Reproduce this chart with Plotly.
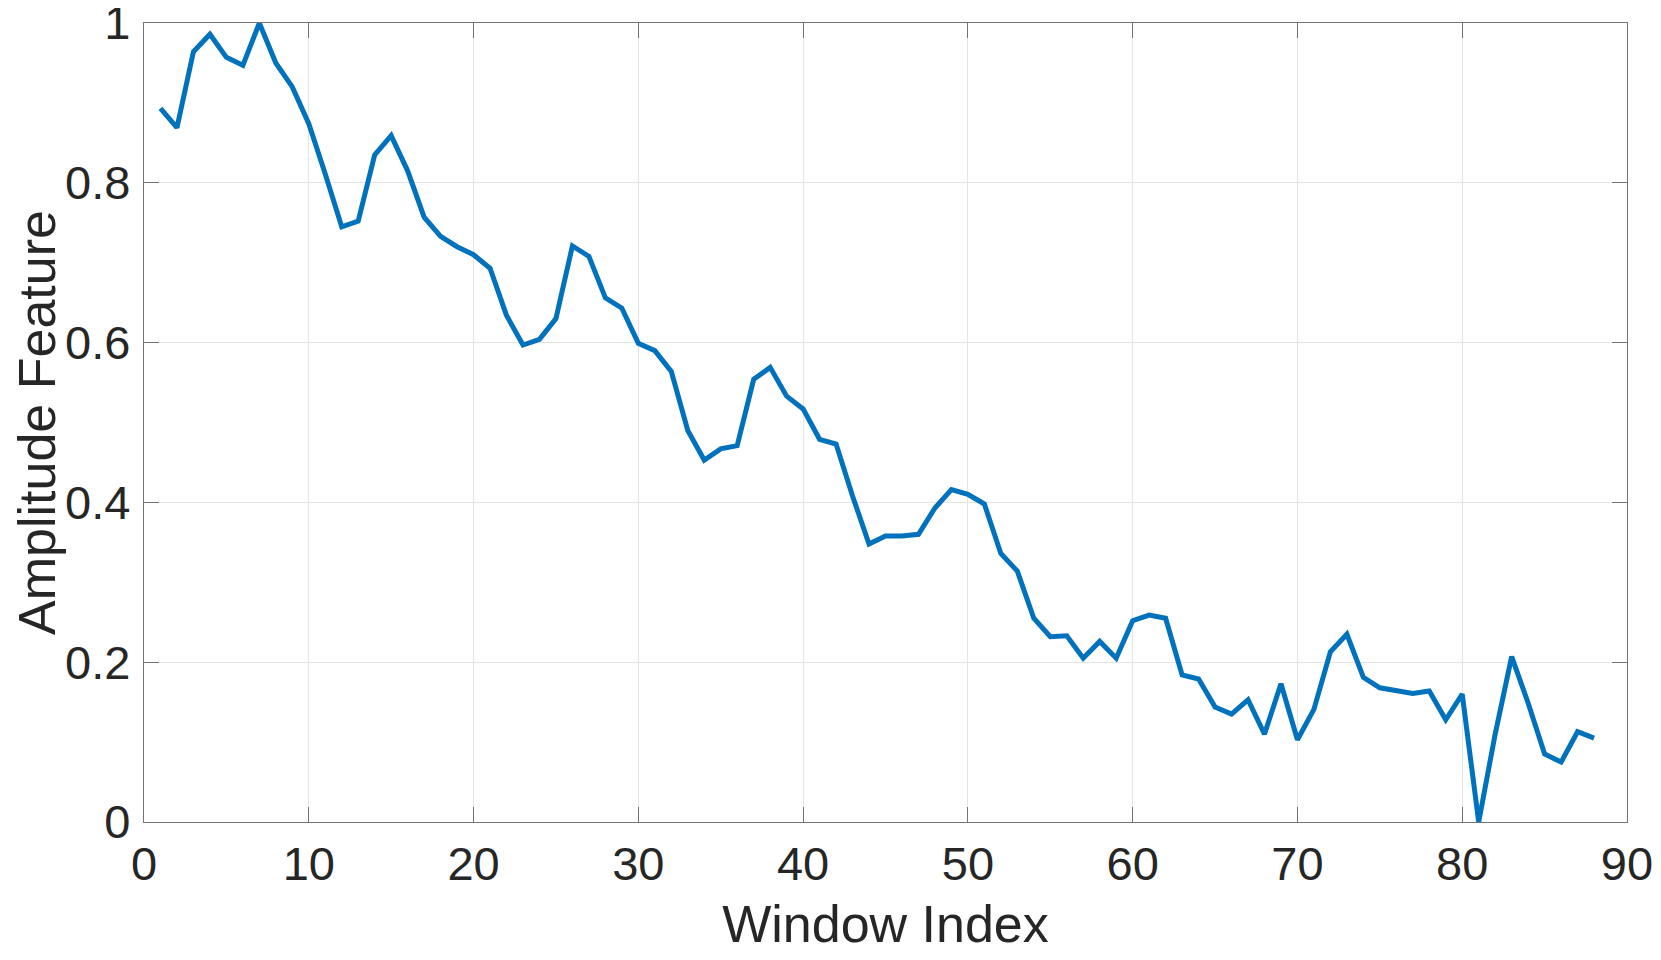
import plotly.graph_objects as go

# Datos
window_index = list(range(1, 89))
amplitude = [
    0.893, 0.869, 0.964, 0.986, 0.957, 0.947, 1.000, 0.950, 0.920, 0.874,
    0.811, 0.745, 0.752, 0.835, 0.859, 0.815, 0.757, 0.733, 0.720, 0.710,
    0.693, 0.634, 0.597, 0.604, 0.630, 0.721, 0.708, 0.656, 0.643, 0.599,
    0.590, 0.564, 0.490, 0.453, 0.467, 0.471, 0.554, 0.569, 0.533, 0.517,
    0.479, 0.473, 0.408, 0.348, 0.358, 0.358, 0.360, 0.393, 0.416, 0.410,
    0.398, 0.336, 0.314, 0.255, 0.232, 0.233, 0.205, 0.226, 0.205, 0.252,
    0.259, 0.255, 0.184, 0.179, 0.144, 0.135, 0.153, 0.110, 0.173, 0.103,
    0.141, 0.213, 0.235, 0.181, 0.168, 0.165, 0.161, 0.164, 0.128, 0.160,
    0.000, 0.110, 0.207, 0.149, 0.085, 0.075, 0.113, 0.105,
]

x_ticks = [0, 10, 20, 30, 40, 50, 60, 70, 80, 90]
y_ticks = [0, 0.2, 0.4, 0.6, 0.8, 1]
y_tick_labels = ["0", "0.2", "0.4", "0.6", "0.8", "1"]

text_color = "#262626"
axis_color = "#737373"
grid_color = "#e4e4e4"

fig = go.Figure()

fig.add_trace(go.Scatter(
    x=window_index,
    y=amplitude,
    mode="lines",
    line=dict(color="#0072BD", width=5),
    showlegend=False,
))

common_axis = dict(
    showline=True,
    linecolor=axis_color,
    linewidth=1.3,
    mirror="allticks",
    ticks="inside",
    ticklen=15,
    tickwidth=1.3,
    tickcolor=axis_color,
    showgrid=True,
    gridcolor=grid_color,
    gridwidth=1,
    zeroline=False,
    automargin=False,
    ticklabeloverflow="allow",
    tickfont=dict(family="Liberation Sans, Arial, sans-serif", size=47, color=text_color),
)

# la página añade 8 px de margen al body: el tamaño se reduce para que quepa
fig.update_layout(
    width=1653,
    height=952,
    paper_bgcolor="white",
    plot_bgcolor="white",
    margin=dict(l=136, r=34, t=15, b=138),
    font=dict(family="Liberation Sans, Arial, sans-serif", color=text_color),
    xaxis=dict(
        common_axis,
        range=[0, 90],
        tickvals=x_ticks,
        ticklabelstandoff=0,
        title=dict(text="Window Index", font=dict(size=52, color=text_color), standoff=17),
    ),
    yaxis=dict(
        common_axis,
        range=[0, 1],
        tickvals=y_ticks,
        ticktext=y_tick_labels,
        ticklabelstandoff=3,
        title=dict(text="Amplitude Feature", font=dict(size=52, color=text_color), standoff=13),
    ),
)

fig.write_html("out.html")
